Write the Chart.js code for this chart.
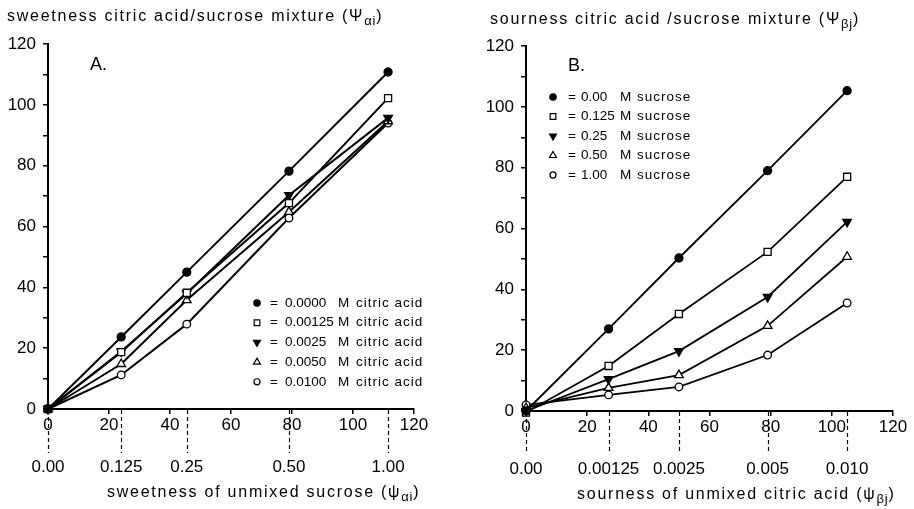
<!DOCTYPE html>
<html><head><meta charset="utf-8">
<script src="https://cdn.jsdelivr.net/npm/chart.js@4.4.1/dist/chart.umd.min.js"></script>
<style>
html,body{margin:0;padding:0;background:#fff;}
#wrap{position:relative;width:914px;height:509px;overflow:hidden;font-family:'Liberation Sans',Arial,sans-serif;color:#000;}
canvas{position:absolute;top:0;}
.t{position:absolute;white-space:nowrap;font-size:16px;letter-spacing:1.75px;line-height:1;}
.t sub{font-size:13px;vertical-align:-4px;letter-spacing:0.8px;line-height:0;}
.p{position:absolute;white-space:nowrap;font-size:18px;line-height:1;}
</style></head><body>
<div id="wrap">
<canvas id="cA" width="457" height="509" style="left:0;width:457px;height:509px"></canvas>
<canvas id="cB" width="457" height="509" style="left:457px;width:457px;height:509px"></canvas>
<div class="t" style="left:7px;top:8px">sweetness citric acid/sucrose mixture (Ψ<sub>αi</sub>)</div>
<div class="t" style="left:490px;top:11px">sourness citric acid /sucrose mixture (Ψ<sub>βj</sub>)</div>
<div class="p" style="left:90px;top:55px">A.</div>
<div class="p" style="left:568px;top:56px">B.</div>
<div class="t" style="left:107px;top:484px">sweetness of unmixed sucrose (ψ<sub>αi</sub>)</div>
<div class="t" style="left:577px;top:486px">sourness of unmixed citric acid (ψ<sub>βj</sub>)</div>
</div>
<script>
// ---------- DATA ----------
// Panel A: sweetness
const sucroseX = [0, 24, 45.5, 79, 111.5];
const sucroseTickLabels = ['0.00', '0.125', '0.25', '0.50', '1.00'];
const citricLevelsA = ['0.0000', '0.00125', '0.0025', '0.0050', '0.0100'];
const sweet_0_0000 = [0, 23.7, 45.0, 78.2, 110.8];
const sweet_0_00125 = [0, 18.7, 38.2, 67.7, 102.2];
const sweet_0_0025 = [0, 18.9, 38.0, 70.3, 95.7];
const sweet_0_0050 = [0, 14.8, 35.8, 64.8, 94.6];
const sweet_0_0100 = [0, 11.2, 27.9, 62.8, 94.0];

// Panel B: sourness
const citricX = [0, 27, 50, 79, 105];
const citricTickLabels = ['0.00', '0.00125', '0.0025', '0.005', '0.010'];
const sucroseLevelsB = ['0.00', '0.125', '0.25', '0.50', '1.00'];
const sour_0_00 = [0, 27.0, 50.3, 79.0, 105.3];
const sour_0_125 = [-0.5, 14.8, 31.9, 52.3, 77.0];
const sour_0_25 = [0, 10.5, 19.7, 37.5, 62.2];
const sour_0_50 = [1, 7.6, 11.8, 28.0, 50.7];
const sour_1_00 = [2, 5.3, 7.9, 18.4, 35.5];

const axisMin = 0, axisMax = 120;

// ---------- STYLE ----------
const FONT = "'Liberation Sans', Arial, sans-serif";
Chart.defaults.color = '#000';
Chart.defaults.font.family = FONT;

const markers = [
  {pointStyle: 'circle', rotation: 0, fill: '#000', radius: 4},
  {pointStyle: 'rect', rotation: 0, fill: '#fff', radius: 5},
  {pointStyle: 'triangle', rotation: 180, fill: '#000', radius: 5},
  {pointStyle: 'triangle', rotation: 0, fill: '#fff', radius: 5},
  {pointStyle: 'circle', rotation: 0, fill: '#fff', radius: 3.8}
];

function mkDataset(xs, ys, label, i, lw) {
  const m = markers[i];
  return {
    label: label,
    data: xs.map((x, k) => ({x: x, y: ys[k]})),
    showLine: true,
    borderColor: '#000',
    borderWidth: lw,
    backgroundColor: m.fill,
    pointStyle: m.pointStyle,
    pointRotation: m.rotation,
    pointRadius: m.radius,
    pointHoverRadius: m.radius,
    pointBackgroundColor: m.fill,
    pointBorderColor: '#000',
    pointBorderWidth: 1.3,
    clip: false,
    tension: 0
  };
}

const extras = {
  id: 'extras',
  afterDatasetsDraw(chart, args, o) {
    const ctx = chart.ctx;
    const xs = chart.scales.x;
    ctx.save();
    // dashed connectors between primary and secondary x axes
    ctx.strokeStyle = '#000';
    ctx.lineWidth = 1.2;
    ctx.setLineDash([4, 3]);
    o.dashValues.forEach(v => {
      const px = Math.round(xs.getPixelForValue(v)) + 0.5;
      ctx.beginPath();
      ctx.moveTo(px, chart.chartArea.bottom + 1);
      ctx.lineTo(px, o.dashEnd);
      ctx.stroke();
    });
    ctx.setLineDash([]);
    // legend
    ctx.textBaseline = 'middle';
    ctx.textAlign = 'left';
    chart.data.datasets.forEach((ds, i) => {
      const y = o.legendTop + i * o.legendGap;
      const m = markers[i];
      ctx.fillStyle = m.fill;
      ctx.strokeStyle = '#000';
      ctx.lineWidth = 1.2;
      Chart.helpers.drawPoint(ctx, {pointStyle: m.pointStyle, rotation: m.rotation, radius: m.radius * 0.8, borderWidth: 1.2}, o.cols[0], y);
      ctx.fillStyle = '#000';
      ctx.font = '13.5px ' + FONT;
      ctx.letterSpacing = '0px';
      ctx.fillText('=', o.cols[1], y);
      ctx.fillText(o.levels[i], o.cols[2], y);
      ctx.letterSpacing = '1px';
      ctx.fillText('M', o.cols[3], y);
      ctx.fillText(o.unit, o.cols[4], y);
    });
    ctx.restore();
  }
};

function axisStyle() {
  return {
    display: true,
    drawOnChartArea: false,
    drawTicks: true,
    tickLength: 5,
    color: '#000',
    lineWidth: 1.5
  };
}

function makeChart(id, xVals, datasets, secLabels, geo, legendOpts) {
  return new Chart(document.getElementById(id), {
    type: 'scatter',
    data: {datasets: datasets},
    plugins: [extras],
    options: {
      responsive: false,
      animation: false,
      devicePixelRatio: 1,
      layout: {padding: {top: geo.top, right: geo.right, left: 0, bottom: 0}},
      plugins: {
        legend: {display: false},
        tooltip: {enabled: false},
        extras: Object.assign({dashValues: xVals, dashEnd: geo.dashEnd}, legendOpts)
      },
      scales: {
        x: {
          type: 'linear', position: 'bottom', weight: 0,
          min: axisMin, max: axisMax,
          ticks: {stepSize: 20, font: {size: 17}, padding: 1, maxRotation: 0},
          grid: axisStyle(),
          border: {display: true, color: '#000', width: 2},
          afterFit: s => { s.height = 30; }
        },
        x2: {
          type: 'linear', position: 'bottom', weight: 1,
          min: axisMin, max: axisMax,
          afterBuildTicks: s => { s.ticks = xVals.map(v => ({value: v})); },
          ticks: {autoSkip: false, maxRotation: 0, font: {size: 17}, padding: geo.secPad,
                  callback: (v, i) => secLabels[i]},
          grid: {display: false, drawTicks: false},
          border: {display: false},
          afterFit: s => { s.height = geo.secH; }
        },
        y: {
          type: 'linear', position: 'left',
          min: axisMin, max: axisMax,
          ticks: {stepSize: 10, font: {size: 17}, padding: 7,
                  callback: v => (v % 20 === 0 ? v : '')},
          grid: axisStyle(),
          border: {display: true, color: '#000', width: 2},
          afterFit: s => { s.width = geo.yW; }
        }
      }
    }
  });
}

const dsA = [sweet_0_0000, sweet_0_00125, sweet_0_0025, sweet_0_0050, sweet_0_0100]
  .map((ys, i) => mkDataset(sucroseX, ys, citricLevelsA[i] + ' M citric acid', i, 2));
const dsB = [sour_0_00, sour_0_125, sour_0_25, sour_0_50, sour_1_00]
  .map((ys, i) => mkDataset(citricX, ys, sucroseLevelsB[i] + ' M sucrose', i, 1.8));

makeChart('cA', sucroseX, dsA, sucroseTickLabels,
  {top: 44, right: 43, yW: 48, secH: 70, secPad: 18, dashEnd: 453},
  {legendTop: 303, legendGap: 19.7, cols: [257, 270, 285, 338, 356], levels: citricLevelsA, unit: 'citric acid'});
makeChart('cB', citricX, dsB, citricTickLabels,
  {top: 46, right: 21, yW: 69, secH: 68, secPad: 18, dashEnd: 453},
  {legendTop: 97, legendGap: 19.5, cols: [96, 111, 124, 163, 180], levels: sucroseLevelsB, unit: 'sucrose'});
</script>
</body></html>
